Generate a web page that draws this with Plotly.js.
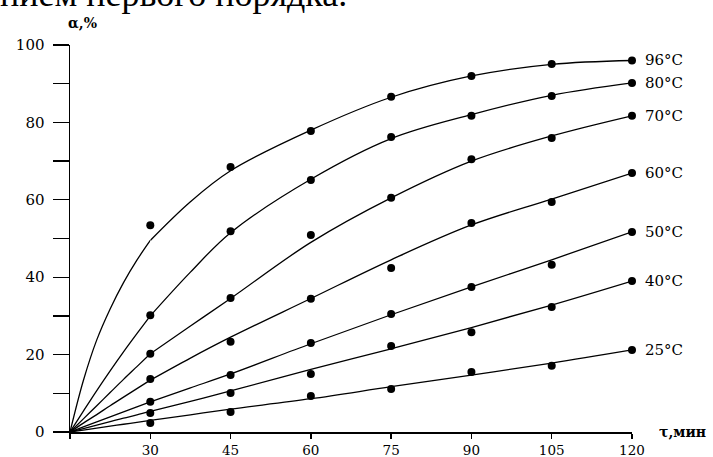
<!DOCTYPE html>
<html>
<head>
<meta charset="utf-8">
<script src="https://cdn.plot.ly/plotly-3.0.1.min.js"></script>
<style>html,body{margin:0;padding:0;background:#fff;overflow:hidden}</style>
</head>
<body>
<div id="chart" style="width:713px;height:457px"></div>
<script>
// The time axis is broken: 0–30 min takes the same width as one 15-min step.
// Left part (0–30 min) and right part (30–120 min) are two x axes side by side.
const timesEarly = [0, 5, 10, 15, 20, 25, 30];
const timesLate = [30, 37.5, 45, 60, 75, 90, 105, 120];
const timesPts = [30, 45, 60, 75, 90, 105, 120];
const xTickVals = [30, 45, 60, 75, 90, 105, 120];
const yTickVals = [0, 10, 20, 30, 40, 50, 60, 70, 80, 90, 100];
const yTickText = ['0', '', '20', '', '40', '', '60', '', '80', '', '100'];

const tempLabels = ['96°C', '80°C', '70°C', '60°C', '50°C', '40°C', '25°C'];

// Smoothed conversion curves, α %: 0–30 min
const early96 = [0, 13.3, 23.8, 31.8, 38.6, 44.4, 49.5];
const early80 = [0, 5.4, 10.7, 15.8, 20.7, 25.4, 30];
const early70 = [0, 3.4, 6.8, 10.2, 13.6, 16.9, 20.2];
const early60 = [0, 2.3, 4.5, 6.8, 9, 11.2, 13.4];
const early50 = [0, 1.3, 2.6, 3.9, 5.2, 6.5, 7.8];
const early40 = [0, 0.9, 1.8, 2.7, 3.6, 4.4, 5.3];
const early25 = [0, 0.5, 1.0, 1.5, 2.0, 2.5, 3.0];

// Smoothed conversion curves, α %: 30–120 min
const late96 = [49.5, 59.5, 67.5, 78, 86.5, 92, 95, 96];
const late80 = [30, 41.3, 51.5, 65.3, 75.8, 82, 87, 90.2];
const late70 = [20.2, 27.4, 34.5, 49, 60.5, 70, 76.5, 81.7];
const late60 = [13.4, 19.1, 24.5, 34.5, 44.5, 53.5, 60.2, 66.9];
const late50 = [7.8, 11.4, 15, 22.8, 30.3, 37.5, 44.5, 51.7];
const late40 = [5.3, 7.9, 10.6, 16.2, 21.5, 27, 32.8, 39];
const late25 = [3.0, 4.45, 5.9, 8.6, 11.7, 14.7, 17.8, 21.2];

// Measured points, α %, at 30…120 min
const pts96 = [53.4, 68.5, 77.8, 86.6, 92, 95.1, 96];
const pts80 = [30.2, 51.9, 65.1, 76.2, 81.7, 86.8, 90.2];
const pts70 = [20.2, 34.6, 50.9, 60.5, 70.5, 76, 81.7];
const pts60 = [13.7, 23.3, 34.4, 42.4, 54, 59.4, 66.9];
const pts50 = [7.8, 14.7, 23, 30.5, 37.5, 43.2, 51.7];
const pts40 = [4.9, 10.1, 15, 22.2, 25.8, 32.3, 39];
const pts25 = [2.3, 5.2, 9.3, 11.1, 15.5, 17.1, 21.2];

const earlyFits = [early96, early80, early70, early60, early50, early40, early25];
const lateFits = [late96, late80, late70, late60, late50, late40, late25];
const pts = [pts96, pts80, pts70, pts60, pts50, pts40, pts25];

const serif = 'DejaVu Serif, Liberation Serif, serif';
const curveLine = {color: '#000', width: 1.3, shape: 'spline', smoothing: 1};
const traces = [];
const annotations = [];

lateFits.forEach((f, i) => {
  traces.push({
    x: timesEarly, y: earlyFits[i], xaxis: 'x2', yaxis: 'y',
    type: 'scatter', mode: 'lines', line: curveLine, cliponaxis: false
  });
  traces.push({
    x: timesLate, y: f, xaxis: 'x', yaxis: 'y',
    type: 'scatter', mode: 'lines', line: curveLine, cliponaxis: false
  });
  traces.push({
    x: timesPts, y: pts[i], xaxis: 'x', yaxis: 'y',
    type: 'scatter', mode: 'markers',
    marker: {color: '#000', size: 8, symbol: 'circle'},
    cliponaxis: false
  });
  annotations.push({
    xref: 'paper', yref: 'y', x: 1, y: pts[i][pts[i].length - 1],
    text: tempLabels[i], showarrow: false, xanchor: 'left', yanchor: 'middle',
    xshift: 11, font: {family: serif, size: 15, color: '#000'}
  });
});

// Axis names
annotations.push({
  xref: 'paper', yref: 'paper', x: -0.008, y: 1.057,
  text: '<b>α,%</b>', showarrow: false, xanchor: 'left', yanchor: 'middle',
  font: {family: serif, size: 14, color: '#000'}
});
annotations.push({
  xref: 'paper', yref: 'paper', x: 1.044, y: 0.0,
  text: '<b>τ,мин</b>', showarrow: false, xanchor: 'left', yanchor: 'middle',
  font: {family: serif, size: 14, color: '#000'}
});
// Running text line of the page above the figure
annotations.push({
  xref: 'paper', yref: 'paper', x: -0.128, y: 1.133,
  text: 'нием первого порядка.', showarrow: false, xanchor: 'left', yanchor: 'middle',
  font: {family: 'Liberation Serif, serif', size: 36, color: '#000'}
});

const axisCommon = {
  automargin: false, showline: true, linecolor: '#000', linewidth: 1.5,
  ticks: 'outside', tickwidth: 1.3, tickcolor: '#000',
  showgrid: false, zeroline: false,
  tickfont: {family: serif, size: 14, color: '#000'}
};

const layout = {
  width: 713, height: 457,
  margin: {l: 70, r: 81, t: 45, b: 25},
  paper_bgcolor: '#fff', plot_bgcolor: '#fff',
  showlegend: false,
  xaxis: Object.assign({}, axisCommon, {
    domain: [1 / 7, 1], range: [30, 120], anchor: 'y',
    tickmode: 'array', tickvals: xTickVals, ticklen: 5,
    tickfont: {family: serif, size: 13.5, color: '#000'}
  }),
  xaxis2: Object.assign({}, axisCommon, {
    domain: [0, 1 / 7], range: [0, 30], anchor: 'y',
    tickmode: 'array', tickvals: [0], ticktext: [''], ticklen: 5
  }),
  yaxis: Object.assign({}, axisCommon, {
    range: [0, 100], anchor: 'x2',
    tickmode: 'array', tickvals: yTickVals, ticktext: yTickText,
    ticklen: 16, ticklabelstandoff: 5,
    tickfont: {family: serif, size: 15, color: '#000'}
  }),
  annotations: annotations
};

Plotly.newPlot('chart', traces, layout, {staticPlot: true, displayModeBar: false});
</script>
</body>
</html>
